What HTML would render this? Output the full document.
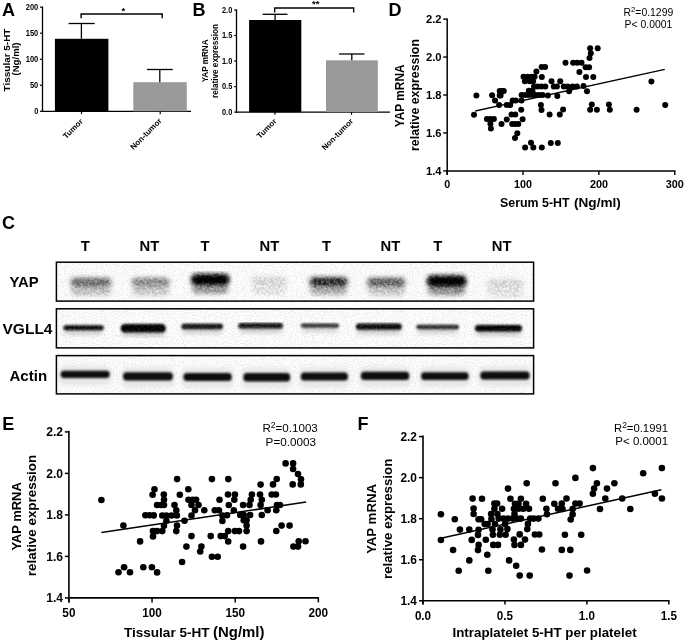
<!DOCTYPE html><html><head><meta charset="utf-8"><style>
html,body{margin:0;padding:0;background:#fff;width:685px;height:642px;overflow:hidden}
svg{display:block;font-family:"Liberation Sans", sans-serif;opacity:0.999}
</style></head><body>
<svg width="685" height="642" viewBox="0 0 685 642">
<defs>
<filter id="b1" x="-30%" y="-100%" width="160%" height="300%"><feGaussianBlur stdDeviation="2.4 2.2"/></filter>
<filter id="b2" x="-30%" y="-100%" width="160%" height="300%"><feGaussianBlur stdDeviation="2.2 2.2"/></filter>
<filter id="b3" x="-30%" y="-100%" width="160%" height="300%"><feGaussianBlur stdDeviation="1.2 0.9"/></filter>
<filter id="noise" x="0" y="0" width="100%" height="100%">
 <feTurbulence type="fractalNoise" baseFrequency="0.9" numOctaves="2" seed="3" result="t"/>
 <feColorMatrix in="t" type="matrix" values="0 0 0 0 0  0 0 0 0 0  0 0 0 0 0  0 0 0 -2.2 1.25" result="m"/>
 <feComposite in="m" in2="SourceGraphic" operator="in"/>
</filter>
<filter id="grain" x="-5%" y="-5%" width="110%" height="110%">
 <feTurbulence type="fractalNoise" baseFrequency="0.42" numOctaves="2" seed="7" result="n"/>
 <feColorMatrix in="n" type="matrix" values="0 0 0 0 0  0 0 0 0 0  0 0 0 0 0  2.2 0 0 0 -0.55" result="na"/>
 <feComposite in="SourceGraphic" in2="na" operator="arithmetic" k1="0.4" k2="0.72" k3="0" k4="0"/>
</filter>
<filter id="grain2" x="-5%" y="-5%" width="110%" height="110%">
 <feTurbulence type="fractalNoise" baseFrequency="0.5" numOctaves="2" seed="11" result="n"/>
 <feColorMatrix in="n" type="matrix" values="0 0 0 0 0  0 0 0 0 0  0 0 0 0 0  2.2 0 0 0 -0.55" result="na"/>
 <feComposite in="SourceGraphic" in2="na" operator="arithmetic" k1="0.15" k2="0.9" k3="0" k4="0"/>
</filter>
</defs>
<rect width="685" height="642" fill="#fff"/>
<text x="1.9" y="15.9" font-size="18" font-weight="bold" text-anchor="start" fill="#000" >A</text>
<line x1="42.5" y1="6.6" x2="42.5" y2="111.95" stroke="#000" stroke-width="1.3"/>
<line x1="40.0" y1="111.3" x2="42.5" y2="111.3" stroke="#000" stroke-width="1.2"/>
<text x="38.3" y="114.05" font-size="8.5" font-weight="bold" text-anchor="end" fill="#000" textLength="4.17" lengthAdjust="spacingAndGlyphs" >0</text>
<line x1="40.0" y1="85.27" x2="42.5" y2="85.27" stroke="#000" stroke-width="1.2"/>
<text x="38.3" y="88.02" font-size="8.5" font-weight="bold" text-anchor="end" fill="#000" textLength="8.34" lengthAdjust="spacingAndGlyphs" >50</text>
<line x1="40.0" y1="59.239999999999995" x2="42.5" y2="59.239999999999995" stroke="#000" stroke-width="1.2"/>
<text x="38.3" y="61.989999999999995" font-size="8.5" font-weight="bold" text-anchor="end" fill="#000" textLength="12.51" lengthAdjust="spacingAndGlyphs" >100</text>
<line x1="40.0" y1="33.209999999999994" x2="42.5" y2="33.209999999999994" stroke="#000" stroke-width="1.2"/>
<text x="38.3" y="35.959999999999994" font-size="8.5" font-weight="bold" text-anchor="end" fill="#000" textLength="12.51" lengthAdjust="spacingAndGlyphs" >150</text>
<line x1="40.0" y1="7.179999999999993" x2="42.5" y2="7.179999999999993" stroke="#000" stroke-width="1.2"/>
<text x="38.3" y="9.929999999999993" font-size="8.5" font-weight="bold" text-anchor="end" fill="#000" textLength="12.51" lengthAdjust="spacingAndGlyphs" >200</text>
<line x1="41.85" y1="111.3" x2="191" y2="111.3" stroke="#000" stroke-width="1.3"/>
<rect x="54.9" y="38.8" width="53.5" height="72.5" fill="#000"/>
<rect x="133.3" y="82.2" width="53.5" height="29.099999999999994" fill="#999"/>
<line x1="81.4" y1="23.5" x2="81.4" y2="38.8" stroke="#000" stroke-width="1.3"/>
<line x1="68.6" y1="23.5" x2="94.7" y2="23.5" stroke="#000" stroke-width="1.3"/>
<line x1="159.8" y1="69.5" x2="159.8" y2="82.2" stroke="#000" stroke-width="1.3"/>
<line x1="146.9" y1="69.5" x2="172.8" y2="69.5" stroke="#000" stroke-width="1.3"/>
<line x1="81.5" y1="111.3" x2="81.5" y2="114.2" stroke="#000" stroke-width="1.2"/>
<line x1="160.2" y1="111.3" x2="160.2" y2="114.2" stroke="#000" stroke-width="1.2"/>
<path d="M81.1 18.2V14.0H162.2V18.2" fill="none" stroke="#000" stroke-width="1.4"/>
<text x="123.4" y="14.0" font-size="9.5" font-weight="bold" text-anchor="middle" fill="#000" >*</text>
<text transform="translate(83.5,122.0) rotate(-45)" font-size="8.0" font-weight="bold" text-anchor="end">Tumor</text>
<text transform="translate(162.3,121.3) rotate(-45)" font-size="8.0" font-weight="bold" text-anchor="end">Non-tumor</text>
<text transform="translate(9.9,60.0) rotate(-90)" font-size="9.9" font-weight="bold" text-anchor="middle" textLength="62.8" lengthAdjust="spacingAndGlyphs">Tissular 5-HT</text>
<text transform="translate(19.3,59.0) rotate(-90)" font-size="9.6" font-weight="bold" text-anchor="middle">(Ng/ml)</text>
<text x="192.5" y="15.9" font-size="18" font-weight="bold" text-anchor="start" fill="#000" >B</text>
<line x1="236.5" y1="9.4" x2="236.5" y2="112.75" stroke="#000" stroke-width="1.3"/>
<line x1="234.2" y1="112.1" x2="236.5" y2="112.1" stroke="#000" stroke-width="1.2"/>
<text x="232.3" y="114.85" font-size="8.3" font-weight="bold" text-anchor="end" fill="#000" textLength="10.29" lengthAdjust="spacingAndGlyphs" >0.0</text>
<line x1="234.2" y1="86.57" x2="236.5" y2="86.57" stroke="#000" stroke-width="1.2"/>
<text x="232.3" y="89.32" font-size="8.3" font-weight="bold" text-anchor="end" fill="#000" textLength="10.29" lengthAdjust="spacingAndGlyphs" >0.5</text>
<line x1="234.2" y1="61.03999999999999" x2="236.5" y2="61.03999999999999" stroke="#000" stroke-width="1.2"/>
<text x="232.3" y="63.78999999999999" font-size="8.3" font-weight="bold" text-anchor="end" fill="#000" textLength="10.29" lengthAdjust="spacingAndGlyphs" >1.0</text>
<line x1="234.2" y1="35.50999999999999" x2="236.5" y2="35.50999999999999" stroke="#000" stroke-width="1.2"/>
<text x="232.3" y="38.25999999999999" font-size="8.3" font-weight="bold" text-anchor="end" fill="#000" textLength="10.29" lengthAdjust="spacingAndGlyphs" >1.5</text>
<line x1="234.2" y1="9.97999999999999" x2="236.5" y2="9.97999999999999" stroke="#000" stroke-width="1.2"/>
<text x="232.3" y="12.72999999999999" font-size="8.3" font-weight="bold" text-anchor="end" fill="#000" textLength="10.29" lengthAdjust="spacingAndGlyphs" >2.0</text>
<line x1="235.85" y1="112.1" x2="390" y2="112.1" stroke="#000" stroke-width="1.3"/>
<rect x="249.1" y="20.0" width="52.2" height="92.1" fill="#000"/>
<rect x="326.0" y="60.3" width="51.8" height="51.8" fill="#999"/>
<line x1="275.1" y1="14.3" x2="275.1" y2="20" stroke="#000" stroke-width="1.3"/>
<line x1="262.6" y1="14.3" x2="287.5" y2="14.3" stroke="#000" stroke-width="1.3"/>
<line x1="351.8" y1="54.0" x2="351.8" y2="60.3" stroke="#000" stroke-width="1.3"/>
<line x1="339.1" y1="54.0" x2="364.4" y2="54.0" stroke="#000" stroke-width="1.3"/>
<line x1="275.0" y1="112.1" x2="275.0" y2="114.8" stroke="#000" stroke-width="1.2"/>
<line x1="351.5" y1="112.1" x2="351.5" y2="114.8" stroke="#000" stroke-width="1.2"/>
<path d="M274.7 12.4V8.0H353.7V12.4" fill="none" stroke="#000" stroke-width="1.3"/>
<text x="315.8" y="7.4" font-size="9.5" font-weight="bold" text-anchor="middle" fill="#000" >**</text>
<text transform="translate(277.2,121.8) rotate(-45)" font-size="8.0" font-weight="bold" text-anchor="end">Tumor</text>
<text transform="translate(353.8,121.8) rotate(-45)" font-size="8.0" font-weight="bold" text-anchor="end">Non-tumor</text>
<text transform="translate(207.6,60.9) rotate(-90)" font-size="8.9" font-weight="bold" text-anchor="middle" textLength="42.9" lengthAdjust="spacingAndGlyphs">YAP mRNA</text>
<text transform="translate(217.6,61.0) rotate(-90)" font-size="8.5" font-weight="bold" text-anchor="middle" textLength="74.0" lengthAdjust="spacingAndGlyphs">relative expression</text>
<text x="388.5" y="15.8" font-size="18" font-weight="bold" text-anchor="start" fill="#000" >D</text>
<line x1="447.2" y1="18.5" x2="447.2" y2="174.8" stroke="#000" stroke-width="1.5"/>
<line x1="443.2" y1="170.9" x2="447.2" y2="170.9" stroke="#000" stroke-width="1.4"/>
<text x="441.6" y="174.9" font-size="11.2" font-weight="bold" text-anchor="end" fill="#000" >1.4</text>
<line x1="443.2" y1="132.95" x2="447.2" y2="132.95" stroke="#000" stroke-width="1.4"/>
<text x="441.6" y="136.95" font-size="11.2" font-weight="bold" text-anchor="end" fill="#000" >1.6</text>
<line x1="443.2" y1="95.0" x2="447.2" y2="95.0" stroke="#000" stroke-width="1.4"/>
<text x="441.6" y="99.0" font-size="11.2" font-weight="bold" text-anchor="end" fill="#000" >1.8</text>
<line x1="443.2" y1="57.05" x2="447.2" y2="57.05" stroke="#000" stroke-width="1.4"/>
<text x="441.6" y="61.05" font-size="11.2" font-weight="bold" text-anchor="end" fill="#000" >2.0</text>
<line x1="443.2" y1="19.099999999999994" x2="447.2" y2="19.099999999999994" stroke="#000" stroke-width="1.4"/>
<text x="441.6" y="23.099999999999994" font-size="11.2" font-weight="bold" text-anchor="end" fill="#000" >2.2</text>
<line x1="447.2" y1="170.9" x2="675.5" y2="170.9" stroke="#000" stroke-width="1.5"/>
<line x1="447.2" y1="170.9" x2="447.2" y2="174.9" stroke="#000" stroke-width="1.4"/>
<text x="447.2" y="188.1" font-size="10.8" font-weight="bold" text-anchor="middle" fill="#000" >0</text>
<line x1="523.05" y1="170.9" x2="523.05" y2="174.9" stroke="#000" stroke-width="1.4"/>
<text x="523.05" y="188.1" font-size="10.8" font-weight="bold" text-anchor="middle" fill="#000" >100</text>
<line x1="598.9" y1="170.9" x2="598.9" y2="174.9" stroke="#000" stroke-width="1.4"/>
<text x="598.9" y="188.1" font-size="10.8" font-weight="bold" text-anchor="middle" fill="#000" >200</text>
<line x1="674.75" y1="170.9" x2="674.75" y2="174.9" stroke="#000" stroke-width="1.4"/>
<text x="674.75" y="188.1" font-size="10.8" font-weight="bold" text-anchor="middle" fill="#000" >300</text>
<text x="500.0" y="206.5" font-size="12.4" font-weight="bold" text-anchor="start" fill="#000" >Serum 5-HT</text>
<text x="574.0" y="206.5" font-size="13.6" font-weight="bold" text-anchor="start" fill="#000" >(Ng/ml)</text>
<text transform="translate(404.3,95.8) rotate(-90)" font-size="12.4" font-weight="bold" text-anchor="middle" textLength="62.7" lengthAdjust="spacingAndGlyphs">YAP mRNA</text>
<text transform="translate(418.6,95.0) rotate(-90)" font-size="12.2" font-weight="bold" text-anchor="middle" textLength="111.9" lengthAdjust="spacingAndGlyphs">relative expression</text>
<text x="623.5" y="15.7" font-size="10.4" font-weight="normal">R<tspan font-size="7.8" dy="-4.1">2</tspan><tspan dy="4.1">=0.1299</tspan></text>
<text x="624.6" y="27.6" font-size="10.4" font-weight="normal" text-anchor="start" fill="#000" >P&lt; 0.0001</text>
<line x1="475.2" y1="111.0" x2="664.8" y2="69.4" stroke="#000" stroke-width="1.4"/>
<circle cx="476.4" cy="95.5" r="3.0"/>
<circle cx="474.0" cy="114.7" r="3.0"/>
<circle cx="492.1" cy="95.2" r="3.0"/>
<circle cx="495.0" cy="100.4" r="3.0"/>
<circle cx="499.7" cy="91.1" r="3.0"/>
<circle cx="503.8" cy="91.1" r="3.0"/>
<circle cx="499.7" cy="95.5" r="3.0"/>
<circle cx="499.1" cy="105.1" r="3.0"/>
<circle cx="506.7" cy="105.1" r="3.0"/>
<circle cx="510.2" cy="105.1" r="3.0"/>
<circle cx="512.6" cy="100.4" r="3.0"/>
<circle cx="515.8" cy="100.4" r="3.0"/>
<circle cx="521.5" cy="100.4" r="3.0"/>
<circle cx="521.2" cy="109.8" r="3.0"/>
<circle cx="511.5" cy="114.5" r="3.0"/>
<circle cx="515.3" cy="114.5" r="3.0"/>
<circle cx="506.8" cy="119.6" r="3.0"/>
<circle cx="522.6" cy="119.3" r="3.0"/>
<circle cx="486.9" cy="119.1" r="3.0"/>
<circle cx="490.4" cy="119.1" r="3.0"/>
<circle cx="493.9" cy="119.1" r="3.0"/>
<circle cx="490.4" cy="123.8" r="3.0"/>
<circle cx="490.9" cy="128.5" r="3.0"/>
<circle cx="501.5" cy="124.0" r="3.0"/>
<circle cx="512.2" cy="124.1" r="3.0"/>
<circle cx="515.3" cy="124.1" r="3.0"/>
<circle cx="518.3" cy="124.1" r="3.0"/>
<circle cx="517.3" cy="133.2" r="3.0"/>
<circle cx="515.0" cy="138.0" r="3.0"/>
<circle cx="525.1" cy="147.6" r="3.0"/>
<circle cx="531.0" cy="142.7" r="3.0"/>
<circle cx="533.3" cy="147.6" r="3.0"/>
<circle cx="541.8" cy="147.6" r="3.0"/>
<circle cx="550.8" cy="142.9" r="3.0"/>
<circle cx="557.8" cy="142.9" r="3.0"/>
<circle cx="540.9" cy="104.9" r="3.0"/>
<circle cx="541.5" cy="110.0" r="3.0"/>
<circle cx="549.6" cy="114.6" r="3.0"/>
<circle cx="563.1" cy="109.6" r="3.0"/>
<circle cx="559.8" cy="114.6" r="3.0"/>
<circle cx="557.3" cy="96.0" r="3.0"/>
<circle cx="541.6" cy="67.1" r="3.0"/>
<circle cx="545.1" cy="67.1" r="3.0"/>
<circle cx="536.4" cy="71.5" r="3.0"/>
<circle cx="523.5" cy="76.8" r="3.0"/>
<circle cx="527.6" cy="76.8" r="3.0"/>
<circle cx="531.7" cy="76.8" r="3.0"/>
<circle cx="534.6" cy="76.8" r="3.0"/>
<circle cx="541.8" cy="76.9" r="3.0"/>
<circle cx="524.9" cy="81.3" r="3.0"/>
<circle cx="529.7" cy="81.3" r="3.0"/>
<circle cx="533.1" cy="81.3" r="3.0"/>
<circle cx="551.5" cy="81.3" r="3.0"/>
<circle cx="560.2" cy="81.2" r="3.0"/>
<circle cx="534.0" cy="86.5" r="3.0"/>
<circle cx="537.5" cy="86.4" r="3.0"/>
<circle cx="541.3" cy="86.5" r="3.0"/>
<circle cx="545.3" cy="86.5" r="3.0"/>
<circle cx="553.8" cy="86.5" r="3.0"/>
<circle cx="556.9" cy="86.5" r="3.0"/>
<circle cx="563.8" cy="86.6" r="3.0"/>
<circle cx="567.6" cy="86.6" r="3.0"/>
<circle cx="572.5" cy="86.6" r="3.0"/>
<circle cx="576.9" cy="86.6" r="3.0"/>
<circle cx="583.5" cy="86.1" r="3.0"/>
<circle cx="569.1" cy="91.3" r="3.0"/>
<circle cx="587.0" cy="91.2" r="3.0"/>
<circle cx="528.8" cy="90.8" r="3.0"/>
<circle cx="532.5" cy="90.8" r="3.0"/>
<circle cx="521.6" cy="95.0" r="3.0"/>
<circle cx="525.1" cy="95.0" r="3.0"/>
<circle cx="528.6" cy="95.0" r="3.0"/>
<circle cx="532.7" cy="95.0" r="3.0"/>
<circle cx="535.6" cy="95.0" r="3.0"/>
<circle cx="539.1" cy="95.0" r="3.0"/>
<circle cx="542.6" cy="95.1" r="3.0"/>
<circle cx="547.9" cy="95.6" r="3.0"/>
<circle cx="502.3" cy="91.0" r="3.0"/>
<circle cx="500.6" cy="95.6" r="3.0"/>
<circle cx="565.5" cy="62.8" r="3.0"/>
<circle cx="573.1" cy="62.8" r="3.0"/>
<circle cx="577.2" cy="62.8" r="3.0"/>
<circle cx="581.5" cy="62.8" r="3.0"/>
<circle cx="585.6" cy="67.3" r="3.0"/>
<circle cx="589.1" cy="67.3" r="3.0"/>
<circle cx="579.4" cy="72.0" r="3.0"/>
<circle cx="586.0" cy="77.0" r="3.0"/>
<circle cx="593.3" cy="77.0" r="3.0"/>
<circle cx="590.1" cy="48.2" r="3.0"/>
<circle cx="597.7" cy="48.2" r="3.0"/>
<circle cx="590.8" cy="53.3" r="3.0"/>
<circle cx="589.5" cy="58.0" r="3.0"/>
<circle cx="651.4" cy="81.5" r="3.0"/>
<circle cx="591.8" cy="104.6" r="3.0"/>
<circle cx="590.1" cy="109.7" r="3.0"/>
<circle cx="596.9" cy="109.7" r="3.0"/>
<circle cx="608.9" cy="104.6" r="3.0"/>
<circle cx="609.8" cy="109.7" r="3.0"/>
<circle cx="636.6" cy="109.7" r="3.0"/>
<circle cx="665.2" cy="105.0" r="3.0"/>
<text x="2.1" y="229.0" font-size="18" font-weight="bold" text-anchor="start" fill="#000" >C</text>
<text x="85.3" y="251.0" font-size="14.8" font-weight="bold" text-anchor="middle" fill="#000" >T</text>
<text x="149.4" y="251.0" font-size="14.8" font-weight="bold" text-anchor="middle" fill="#000" >NT</text>
<text x="205.0" y="251.0" font-size="14.8" font-weight="bold" text-anchor="middle" fill="#000" >T</text>
<text x="269.4" y="251.0" font-size="14.8" font-weight="bold" text-anchor="middle" fill="#000" >NT</text>
<text x="326.5" y="251.0" font-size="14.8" font-weight="bold" text-anchor="middle" fill="#000" >T</text>
<text x="390.4" y="251.0" font-size="14.8" font-weight="bold" text-anchor="middle" fill="#000" >NT</text>
<text x="437.8" y="251.0" font-size="14.8" font-weight="bold" text-anchor="middle" fill="#000" >T</text>
<text x="501.7" y="251.0" font-size="14.8" font-weight="bold" text-anchor="middle" fill="#000" >NT</text>
<text x="9.5" y="287.3" font-size="14.8" font-weight="bold" text-anchor="start" fill="#000" textLength="29.2" lengthAdjust="spacingAndGlyphs" >YAP</text>
<text x="2.5" y="333.9" font-size="15.4" font-weight="bold" text-anchor="start" fill="#000" textLength="50.0" lengthAdjust="spacingAndGlyphs" >VGLL4</text>
<text x="9.5" y="380.8" font-size="15.1" font-weight="bold" text-anchor="start" fill="#000" textLength="37.6" lengthAdjust="spacingAndGlyphs" >Actin</text>
<rect x="56.4" y="262.2" width="477.20000000000005" height="38.900000000000034" fill="#fff"/>
<rect x="56.4" y="262.2" width="477.20000000000005" height="38.900000000000034" fill="#000" filter="url(#noise)" opacity="0.13"/>
<rect x="56.4" y="308.8" width="477.20000000000005" height="39.099999999999966" fill="#fff"/>
<rect x="56.4" y="308.8" width="477.20000000000005" height="39.099999999999966" fill="#000" filter="url(#noise)" opacity="0.13"/>
<rect x="56.4" y="355.6" width="477.20000000000005" height="38.299999999999955" fill="#fff"/>
<rect x="56.4" y="355.6" width="477.20000000000005" height="38.299999999999955" fill="#000" filter="url(#noise)" opacity="0.13"/>
<g filter="url(#grain)">
<rect x="71.0" y="285.5" width="40.0" height="10.0" rx="5.0" fill="rgb(214,214,214)" filter="url(#b2)"/>
<rect x="71.0" y="277.8" width="40.0" height="9.0" rx="4.0" fill="rgb(115,115,115)" filter="url(#b1)"/>
<rect x="132.0" y="285.5" width="37.5" height="10.0" rx="5.0" fill="rgb(224,224,224)" filter="url(#b2)"/>
<rect x="132.0" y="277.8" width="37.5" height="9.0" rx="4.0" fill="rgb(148,148,148)" filter="url(#b1)"/>
<rect x="192.0" y="283.8" width="36.5" height="10.0" rx="5.0" fill="rgb(163,163,163)" filter="url(#b2)"/>
<rect x="192.5" y="272.3" width="35.5" height="5.0" rx="2.5" fill="rgb(218,218,218)" filter="url(#b2)"/>
<rect x="192.0" y="274.6" width="36.5" height="10.5" rx="4.0" fill="rgb(0,0,0)" filter="url(#b1)"/>
<rect x="252.0" y="284.5" width="34.5" height="10.0" rx="5.0" fill="rgb(252,252,252)" filter="url(#b2)"/>
<rect x="252.0" y="276.8" width="34.5" height="9.0" rx="4.0" fill="rgb(238,238,238)" filter="url(#b1)"/>
<rect x="310.0" y="285.0" width="37.3" height="10.0" rx="5.0" fill="rgb(189,189,189)" filter="url(#b2)"/>
<rect x="310.0" y="277.3" width="37.3" height="9.0" rx="4.0" fill="rgb(36,36,36)" filter="url(#b1)"/>
<rect x="367.5" y="285.4" width="37.5" height="10.0" rx="5.0" fill="rgb(222,222,222)" filter="url(#b2)"/>
<rect x="367.5" y="277.7" width="37.5" height="9.0" rx="4.0" fill="rgb(102,102,102)" filter="url(#b1)"/>
<rect x="427.8" y="285.3" width="37.7" height="10.0" rx="5.0" fill="rgb(158,158,158)" filter="url(#b2)"/>
<rect x="428.3" y="273.8" width="36.7" height="5.0" rx="2.5" fill="rgb(216,216,216)" filter="url(#b2)"/>
<rect x="427.8" y="276.1" width="37.7" height="10.5" rx="4.0" fill="rgb(0,0,0)" filter="url(#b1)"/>
<rect x="487.5" y="287.0" width="35.5" height="10.0" rx="5.0" fill="rgb(252,252,252)" filter="url(#b2)"/>
<rect x="487.5" y="279.3" width="35.5" height="9.0" rx="4.0" fill="rgb(241,241,241)" filter="url(#b1)"/>
</g>
<rect x="192.5" y="276.6" width="35.5" height="6.5" rx="3.0" fill="rgb(0,0,0)" filter="url(#b1)"/>
<rect x="428.3" y="278.1" width="36.7" height="6.5" rx="3.0" fill="rgb(0,0,0)" filter="url(#b1)"/>
<g filter="url(#grain2)">
<rect x="64.4" y="325.8" width="38.2" height="9.0" rx="3.0" fill="rgb(211,211,211)" filter="url(#b2)"/>
<rect x="63.3" y="325.3" width="40.4" height="5.0" rx="2.5" fill="rgb(13,13,13)" filter="url(#b3)"/>
<rect x="121.8" y="324.4" width="42.9" height="12.6" rx="3.0" fill="rgb(209,209,209)" filter="url(#b2)"/>
<rect x="120.7" y="323.9" width="45.1" height="8.6" rx="4.3" fill="rgb(0,0,0)" filter="url(#b3)"/>
<rect x="182.5" y="324.2" width="39.4" height="9.6" rx="3.0" fill="rgb(213,213,213)" filter="url(#b2)"/>
<rect x="181.4" y="323.7" width="41.6" height="5.6" rx="2.8" fill="rgb(20,20,20)" filter="url(#b3)"/>
<rect x="239.4" y="323.4" width="42.5" height="9.6" rx="3.0" fill="rgb(214,214,214)" filter="url(#b2)"/>
<rect x="238.3" y="322.9" width="44.7" height="5.6" rx="2.8" fill="rgb(25,25,25)" filter="url(#b3)"/>
<rect x="301.9" y="324.0" width="36.1" height="8.2" rx="3.0" fill="rgb(219,219,219)" filter="url(#b2)"/>
<rect x="300.8" y="323.5" width="38.3" height="4.2" rx="2.1" fill="rgb(56,56,56)" filter="url(#b3)"/>
<rect x="357.1" y="324.1" width="43.6" height="10.2" rx="3.0" fill="rgb(211,211,211)" filter="url(#b2)"/>
<rect x="356.0" y="323.6" width="45.8" height="6.2" rx="3.1" fill="rgb(13,13,13)" filter="url(#b3)"/>
<rect x="417.4" y="325.3" width="40.5" height="8.4" rx="3.0" fill="rgb(217,217,217)" filter="url(#b2)"/>
<rect x="416.3" y="324.8" width="42.7" height="4.4" rx="2.2" fill="rgb(46,46,46)" filter="url(#b3)"/>
<rect x="476.1" y="325.4" width="44.8" height="10.6" rx="3.0" fill="rgb(209,209,209)" filter="url(#b2)"/>
<rect x="475.0" y="324.9" width="47.0" height="6.6" rx="3.3" fill="rgb(0,0,0)" filter="url(#b3)"/>
</g>
<rect x="58.9" y="365.7" width="52.5" height="19.2" rx="6.0" fill="rgb(230,230,230)" filter="url(#b2)"/>
<rect x="60.6" y="370.7" width="49.1" height="7.2" rx="3.5" fill="rgb(13,13,13)" filter="url(#b3)"/>
<rect x="121.4" y="367.3" width="53.1" height="20.2" rx="6.0" fill="rgb(230,230,230)" filter="url(#b2)"/>
<rect x="123.1" y="372.3" width="49.7" height="8.2" rx="3.5" fill="rgb(13,13,13)" filter="url(#b3)"/>
<rect x="181.8" y="368.1" width="51.6" height="20.0" rx="6.0" fill="rgb(230,230,230)" filter="url(#b2)"/>
<rect x="183.5" y="373.1" width="48.2" height="8.0" rx="3.5" fill="rgb(13,13,13)" filter="url(#b3)"/>
<rect x="241.7" y="368.0" width="50.1" height="20.4" rx="6.0" fill="rgb(230,230,230)" filter="url(#b2)"/>
<rect x="243.4" y="373.0" width="46.7" height="8.4" rx="3.5" fill="rgb(13,13,13)" filter="url(#b3)"/>
<rect x="299.1" y="367.4" width="50.5" height="20.2" rx="6.0" fill="rgb(230,230,230)" filter="url(#b2)"/>
<rect x="300.8" y="372.4" width="47.1" height="8.2" rx="3.5" fill="rgb(13,13,13)" filter="url(#b3)"/>
<rect x="359.2" y="366.7" width="51.7" height="20.2" rx="6.0" fill="rgb(230,230,230)" filter="url(#b2)"/>
<rect x="360.9" y="371.7" width="48.3" height="8.2" rx="3.5" fill="rgb(13,13,13)" filter="url(#b3)"/>
<rect x="419.4" y="367.3" width="50.9" height="19.8" rx="6.0" fill="rgb(230,230,230)" filter="url(#b2)"/>
<rect x="421.1" y="372.3" width="47.5" height="7.8" rx="3.5" fill="rgb(13,13,13)" filter="url(#b3)"/>
<rect x="478.6" y="366.6" width="52.7" height="19.8" rx="6.0" fill="rgb(230,230,230)" filter="url(#b2)"/>
<rect x="480.3" y="371.6" width="49.3" height="7.8" rx="3.5" fill="rgb(13,13,13)" filter="url(#b3)"/>
<rect x="56.4" y="262.2" width="477.20000000000005" height="38.900000000000034" fill="none" stroke="#000" stroke-width="1.5"/>
<rect x="56.4" y="308.8" width="477.20000000000005" height="39.099999999999966" fill="none" stroke="#000" stroke-width="1.5"/>
<rect x="56.4" y="355.6" width="477.20000000000005" height="38.299999999999955" fill="none" stroke="#000" stroke-width="1.5"/>
<text x="2.2" y="429.6" font-size="18" font-weight="bold" text-anchor="start" fill="#000" >E</text>
<line x1="68.9" y1="430.8" x2="68.9" y2="602.4" stroke="#000" stroke-width="1.6"/>
<line x1="64.9" y1="597.9" x2="68.9" y2="597.9" stroke="#000" stroke-width="1.5"/>
<text x="63.0" y="602.25" font-size="12.1" font-weight="bold" text-anchor="end" fill="#000" >1.4</text>
<line x1="64.9" y1="556.4" x2="68.9" y2="556.4" stroke="#000" stroke-width="1.5"/>
<text x="63.0" y="560.75" font-size="12.1" font-weight="bold" text-anchor="end" fill="#000" >1.6</text>
<line x1="64.9" y1="514.9" x2="68.9" y2="514.9" stroke="#000" stroke-width="1.5"/>
<text x="63.0" y="519.25" font-size="12.1" font-weight="bold" text-anchor="end" fill="#000" >1.8</text>
<line x1="64.9" y1="473.4" x2="68.9" y2="473.4" stroke="#000" stroke-width="1.5"/>
<text x="63.0" y="477.75" font-size="12.1" font-weight="bold" text-anchor="end" fill="#000" >2.0</text>
<line x1="64.9" y1="431.9" x2="68.9" y2="431.9" stroke="#000" stroke-width="1.5"/>
<text x="63.0" y="436.25" font-size="12.1" font-weight="bold" text-anchor="end" fill="#000" >2.2</text>
<line x1="68.9" y1="597.9" x2="318.8" y2="597.9" stroke="#000" stroke-width="1.6"/>
<line x1="68.9" y1="597.9" x2="68.9" y2="602.4" stroke="#000" stroke-width="1.5"/>
<text x="68.9" y="616.9" font-size="13.0" font-weight="bold" text-anchor="middle" fill="#000" textLength="13.07" lengthAdjust="spacingAndGlyphs" >50</text>
<line x1="152.05" y1="597.9" x2="152.05" y2="602.4" stroke="#000" stroke-width="1.5"/>
<text x="152.05" y="616.9" font-size="13.0" font-weight="bold" text-anchor="middle" fill="#000" textLength="19.6" lengthAdjust="spacingAndGlyphs" >100</text>
<line x1="235.20000000000002" y1="597.9" x2="235.20000000000002" y2="602.4" stroke="#000" stroke-width="1.5"/>
<text x="235.20000000000002" y="616.9" font-size="13.0" font-weight="bold" text-anchor="middle" fill="#000" textLength="19.6" lengthAdjust="spacingAndGlyphs" >150</text>
<line x1="318.35" y1="597.9" x2="318.35" y2="602.4" stroke="#000" stroke-width="1.5"/>
<text x="318.35" y="616.9" font-size="13.0" font-weight="bold" text-anchor="middle" fill="#000" textLength="19.6" lengthAdjust="spacingAndGlyphs" >200</text>
<text x="123.9" y="637.4" font-size="13.5" font-weight="bold" text-anchor="start" fill="#000" textLength="85.7" lengthAdjust="spacingAndGlyphs" >Tissular 5-HT</text>
<text x="213.1" y="637.4" font-size="15.0" font-weight="bold" text-anchor="start" fill="#000" textLength="51.4" lengthAdjust="spacingAndGlyphs" >(Ng/ml)</text>
<text transform="translate(21.2,516.4) rotate(-90)" font-size="13.4" font-weight="bold" text-anchor="middle" textLength="68.4" lengthAdjust="spacingAndGlyphs">YAP mRNA</text>
<text transform="translate(35.6,515.5) rotate(-90)" font-size="13.3" font-weight="bold" text-anchor="middle" textLength="121.3" lengthAdjust="spacingAndGlyphs">relative expression</text>
<text x="262.4" y="432.3" font-size="11.6" font-weight="normal">R<tspan font-size="8.6" dy="-4.5">2</tspan><tspan dy="4.5">=0.1003</tspan></text>
<text x="265.6" y="445.6" font-size="11.7" font-weight="normal" text-anchor="start" fill="#000" >P=0.0003</text>
<line x1="101.4" y1="532.6" x2="306.2" y2="502.1" stroke="#000" stroke-width="1.5"/>
<circle cx="101.4" cy="500.0" r="3.3"/>
<circle cx="154.5" cy="489.3" r="3.3"/>
<circle cx="152.6" cy="494.7" r="3.3"/>
<circle cx="157.1" cy="505.0" r="3.3"/>
<circle cx="145.4" cy="515.3" r="3.3"/>
<circle cx="149.5" cy="515.3" r="3.3"/>
<circle cx="153.7" cy="515.4" r="3.3"/>
<circle cx="123.4" cy="525.5" r="3.3"/>
<circle cx="153.0" cy="531.1" r="3.3"/>
<circle cx="157.1" cy="531.1" r="3.3"/>
<circle cx="153.0" cy="536.4" r="3.3"/>
<circle cx="140.1" cy="541.4" r="3.3"/>
<circle cx="124.1" cy="567.3" r="3.3"/>
<circle cx="118.5" cy="572.3" r="3.3"/>
<circle cx="130.0" cy="572.3" r="3.3"/>
<circle cx="143.3" cy="567.3" r="3.3"/>
<circle cx="151.9" cy="567.3" r="3.3"/>
<circle cx="157.1" cy="572.4" r="3.3"/>
<circle cx="177.1" cy="479.1" r="3.3"/>
<circle cx="211.9" cy="479.1" r="3.3"/>
<circle cx="228.3" cy="479.1" r="3.3"/>
<circle cx="163.8" cy="494.5" r="3.3"/>
<circle cx="179.8" cy="494.8" r="3.3"/>
<circle cx="188.3" cy="489.3" r="3.3"/>
<circle cx="164.0" cy="499.8" r="3.3"/>
<circle cx="188.5" cy="499.8" r="3.3"/>
<circle cx="192.6" cy="499.8" r="3.3"/>
<circle cx="196.1" cy="499.8" r="3.3"/>
<circle cx="219.5" cy="499.8" r="3.3"/>
<circle cx="228.0" cy="494.5" r="3.3"/>
<circle cx="161.1" cy="505.0" r="3.3"/>
<circle cx="164.0" cy="505.0" r="3.3"/>
<circle cx="174.5" cy="505.0" r="3.3"/>
<circle cx="191.5" cy="505.0" r="3.3"/>
<circle cx="198.5" cy="505.0" r="3.3"/>
<circle cx="228.8" cy="505.0" r="3.3"/>
<circle cx="176.3" cy="510.3" r="3.3"/>
<circle cx="195.0" cy="510.3" r="3.3"/>
<circle cx="204.3" cy="510.3" r="3.3"/>
<circle cx="214.8" cy="510.3" r="3.3"/>
<circle cx="218.9" cy="510.3" r="3.3"/>
<circle cx="162.3" cy="515.5" r="3.3"/>
<circle cx="166.4" cy="515.5" r="3.3"/>
<circle cx="171.6" cy="515.5" r="3.3"/>
<circle cx="176.9" cy="515.5" r="3.3"/>
<circle cx="191.5" cy="515.5" r="3.3"/>
<circle cx="222.4" cy="515.5" r="3.3"/>
<circle cx="227.0" cy="515.3" r="3.3"/>
<circle cx="166.4" cy="520.8" r="3.3"/>
<circle cx="184.5" cy="520.8" r="3.3"/>
<circle cx="222.4" cy="520.9" r="3.3"/>
<circle cx="164.0" cy="525.7" r="3.3"/>
<circle cx="177.0" cy="525.6" r="3.3"/>
<circle cx="162.3" cy="531.1" r="3.3"/>
<circle cx="176.3" cy="531.1" r="3.3"/>
<circle cx="191.5" cy="536.1" r="3.3"/>
<circle cx="210.7" cy="536.1" r="3.3"/>
<circle cx="220.7" cy="536.1" r="3.3"/>
<circle cx="224.7" cy="536.1" r="3.3"/>
<circle cx="228.2" cy="531.1" r="3.3"/>
<circle cx="228.2" cy="541.5" r="3.3"/>
<circle cx="186.4" cy="546.6" r="3.3"/>
<circle cx="201.4" cy="546.6" r="3.3"/>
<circle cx="200.2" cy="551.5" r="3.3"/>
<circle cx="211.9" cy="556.8" r="3.3"/>
<circle cx="217.7" cy="556.8" r="3.3"/>
<circle cx="182.1" cy="562.0" r="3.3"/>
<circle cx="285.6" cy="463.4" r="3.3"/>
<circle cx="293.1" cy="463.4" r="3.3"/>
<circle cx="293.1" cy="469.0" r="3.3"/>
<circle cx="298.0" cy="474.0" r="3.3"/>
<circle cx="301.0" cy="479.3" r="3.3"/>
<circle cx="276.7" cy="479.0" r="3.3"/>
<circle cx="273.0" cy="484.4" r="3.3"/>
<circle cx="260.6" cy="484.6" r="3.3"/>
<circle cx="292.7" cy="484.4" r="3.3"/>
<circle cx="300.8" cy="484.4" r="3.3"/>
<circle cx="234.9" cy="494.5" r="3.3"/>
<circle cx="251.9" cy="494.5" r="3.3"/>
<circle cx="260.0" cy="494.5" r="3.3"/>
<circle cx="271.7" cy="494.5" r="3.3"/>
<circle cx="275.9" cy="494.5" r="3.3"/>
<circle cx="234.3" cy="499.8" r="3.3"/>
<circle cx="250.7" cy="499.8" r="3.3"/>
<circle cx="261.8" cy="499.8" r="3.3"/>
<circle cx="243.1" cy="505.0" r="3.3"/>
<circle cx="249.5" cy="505.0" r="3.3"/>
<circle cx="260.6" cy="505.0" r="3.3"/>
<circle cx="277.0" cy="505.1" r="3.3"/>
<circle cx="279.9" cy="505.0" r="3.3"/>
<circle cx="233.8" cy="510.3" r="3.3"/>
<circle cx="267.6" cy="510.3" r="3.3"/>
<circle cx="276.3" cy="510.3" r="3.3"/>
<circle cx="240.2" cy="515.0" r="3.3"/>
<circle cx="243.7" cy="515.0" r="3.3"/>
<circle cx="250.1" cy="515.0" r="3.3"/>
<circle cx="261.8" cy="515.0" r="3.3"/>
<circle cx="243.7" cy="520.3" r="3.3"/>
<circle cx="246.6" cy="520.3" r="3.3"/>
<circle cx="246.6" cy="525.5" r="3.3"/>
<circle cx="281.6" cy="525.6" r="3.3"/>
<circle cx="289.6" cy="525.6" r="3.3"/>
<circle cx="234.9" cy="531.1" r="3.3"/>
<circle cx="239.0" cy="531.1" r="3.3"/>
<circle cx="246.6" cy="531.1" r="3.3"/>
<circle cx="276.3" cy="531.0" r="3.3"/>
<circle cx="261.0" cy="541.4" r="3.3"/>
<circle cx="243.1" cy="546.6" r="3.3"/>
<circle cx="298.7" cy="541.2" r="3.3"/>
<circle cx="305.5" cy="541.2" r="3.3"/>
<circle cx="293.4" cy="546.6" r="3.3"/>
<circle cx="298.0" cy="546.6" r="3.3"/>
<text x="357.4" y="429.6" font-size="18" font-weight="bold" text-anchor="start" fill="#000" >F</text>
<line x1="423.0" y1="435.5" x2="423.0" y2="604.4" stroke="#000" stroke-width="1.6"/>
<line x1="419.0" y1="600.8" x2="423.0" y2="600.8" stroke="#000" stroke-width="1.5"/>
<text x="417.0" y="605.25" font-size="12.4" font-weight="bold" text-anchor="end" fill="#000" textLength="16.54" lengthAdjust="spacingAndGlyphs" >1.4</text>
<line x1="419.0" y1="559.75" x2="423.0" y2="559.75" stroke="#000" stroke-width="1.5"/>
<text x="417.0" y="564.2" font-size="12.4" font-weight="bold" text-anchor="end" fill="#000" textLength="16.54" lengthAdjust="spacingAndGlyphs" >1.6</text>
<line x1="419.0" y1="518.6999999999999" x2="423.0" y2="518.6999999999999" stroke="#000" stroke-width="1.5"/>
<text x="417.0" y="523.15" font-size="12.4" font-weight="bold" text-anchor="end" fill="#000" textLength="16.54" lengthAdjust="spacingAndGlyphs" >1.8</text>
<line x1="419.0" y1="477.65" x2="423.0" y2="477.65" stroke="#000" stroke-width="1.5"/>
<text x="417.0" y="482.09999999999997" font-size="12.4" font-weight="bold" text-anchor="end" fill="#000" textLength="16.54" lengthAdjust="spacingAndGlyphs" >2.0</text>
<line x1="419.0" y1="436.59999999999997" x2="423.0" y2="436.59999999999997" stroke="#000" stroke-width="1.5"/>
<text x="417.0" y="441.04999999999995" font-size="12.4" font-weight="bold" text-anchor="end" fill="#000" textLength="16.54" lengthAdjust="spacingAndGlyphs" >2.2</text>
<line x1="423.0" y1="600.8" x2="669.5" y2="600.8" stroke="#000" stroke-width="1.6"/>
<line x1="423.0" y1="600.8" x2="423.0" y2="604.4" stroke="#000" stroke-width="1.5"/>
<text x="423.0" y="619.8" font-size="12.5" font-weight="bold" text-anchor="middle" fill="#000" textLength="16.19" lengthAdjust="spacingAndGlyphs" >0.0</text>
<line x1="504.95" y1="600.8" x2="504.95" y2="604.4" stroke="#000" stroke-width="1.5"/>
<text x="504.95" y="619.8" font-size="12.5" font-weight="bold" text-anchor="middle" fill="#000" textLength="16.19" lengthAdjust="spacingAndGlyphs" >0.5</text>
<line x1="586.9" y1="600.8" x2="586.9" y2="604.4" stroke="#000" stroke-width="1.5"/>
<text x="586.9" y="619.8" font-size="12.5" font-weight="bold" text-anchor="middle" fill="#000" textLength="16.19" lengthAdjust="spacingAndGlyphs" >1.0</text>
<line x1="668.85" y1="600.8" x2="668.85" y2="604.4" stroke="#000" stroke-width="1.5"/>
<text x="668.85" y="619.8" font-size="12.5" font-weight="bold" text-anchor="middle" fill="#000" textLength="16.19" lengthAdjust="spacingAndGlyphs" >1.5</text>
<text x="452.5" y="637.4" font-size="13.6" font-weight="bold" text-anchor="start" fill="#000" textLength="184.1" lengthAdjust="spacingAndGlyphs" >Intraplatelet 5-HT per platelet</text>
<text transform="translate(376.2,518.9) rotate(-90)" font-size="13.4" font-weight="bold" text-anchor="middle" textLength="69.9" lengthAdjust="spacingAndGlyphs">YAP mRNA</text>
<text transform="translate(391.6,518.9) rotate(-90)" font-size="13.3" font-weight="bold" text-anchor="middle" textLength="120.3" lengthAdjust="spacingAndGlyphs">relative expression</text>
<text x="614.0" y="432.0" font-size="11.3" font-weight="normal">R<tspan font-size="8.4" dy="-4.4">2</tspan><tspan dy="4.4">=0.1991</tspan></text>
<text x="615.3" y="445.4" font-size="11.5" font-weight="normal" text-anchor="start" fill="#000" >P&lt; 0.0001</text>
<line x1="440.9" y1="538.2" x2="661.4" y2="489.8" stroke="#000" stroke-width="1.5"/>
<circle cx="440.9" cy="514.3" r="3.3"/>
<circle cx="440.9" cy="540.0" r="3.3"/>
<circle cx="454.8" cy="519.3" r="3.3"/>
<circle cx="459.9" cy="529.6" r="3.3"/>
<circle cx="469.3" cy="529.6" r="3.3"/>
<circle cx="453.1" cy="550.0" r="3.3"/>
<circle cx="469.3" cy="560.4" r="3.3"/>
<circle cx="458.7" cy="570.7" r="3.3"/>
<circle cx="472.6" cy="498.6" r="3.3"/>
<circle cx="482.0" cy="498.7" r="3.3"/>
<circle cx="473.6" cy="508.6" r="3.3"/>
<circle cx="473.6" cy="514.0" r="3.3"/>
<circle cx="478.6" cy="519.3" r="3.3"/>
<circle cx="481.1" cy="519.3" r="3.3"/>
<circle cx="484.7" cy="524.1" r="3.3"/>
<circle cx="487.6" cy="524.1" r="3.3"/>
<circle cx="478.6" cy="529.7" r="3.3"/>
<circle cx="478.0" cy="534.9" r="3.3"/>
<circle cx="471.7" cy="539.9" r="3.3"/>
<circle cx="485.8" cy="539.8" r="3.3"/>
<circle cx="478.6" cy="544.9" r="3.3"/>
<circle cx="478.0" cy="550.1" r="3.3"/>
<circle cx="487.3" cy="554.8" r="3.3"/>
<circle cx="488.3" cy="570.7" r="3.3"/>
<circle cx="508.0" cy="488.6" r="3.3"/>
<circle cx="526.7" cy="483.3" r="3.3"/>
<circle cx="555.5" cy="483.3" r="3.3"/>
<circle cx="494.4" cy="503.6" r="3.3"/>
<circle cx="497.1" cy="503.6" r="3.3"/>
<circle cx="494.4" cy="508.7" r="3.3"/>
<circle cx="502.1" cy="508.7" r="3.3"/>
<circle cx="491.1" cy="514.0" r="3.3"/>
<circle cx="497.4" cy="514.0" r="3.3"/>
<circle cx="491.4" cy="519.0" r="3.3"/>
<circle cx="495.0" cy="524.1" r="3.3"/>
<circle cx="492.5" cy="529.4" r="3.3"/>
<circle cx="500.4" cy="529.4" r="3.3"/>
<circle cx="492.9" cy="534.7" r="3.3"/>
<circle cx="499.9" cy="534.7" r="3.3"/>
<circle cx="505.6" cy="534.7" r="3.3"/>
<circle cx="493.2" cy="544.9" r="3.3"/>
<circle cx="498.0" cy="544.9" r="3.3"/>
<circle cx="509.1" cy="560.4" r="3.3"/>
<circle cx="510.4" cy="498.8" r="3.3"/>
<circle cx="520.9" cy="498.8" r="3.3"/>
<circle cx="542.8" cy="498.8" r="3.3"/>
<circle cx="515.0" cy="503.8" r="3.3"/>
<circle cx="518.5" cy="503.8" r="3.3"/>
<circle cx="526.1" cy="503.8" r="3.3"/>
<circle cx="554.3" cy="503.7" r="3.3"/>
<circle cx="513.9" cy="508.7" r="3.3"/>
<circle cx="518.5" cy="508.7" r="3.3"/>
<circle cx="523.2" cy="508.7" r="3.3"/>
<circle cx="529.0" cy="508.7" r="3.3"/>
<circle cx="546.4" cy="508.8" r="3.3"/>
<circle cx="558.0" cy="508.8" r="3.3"/>
<circle cx="514.5" cy="514.0" r="3.3"/>
<circle cx="547.0" cy="514.2" r="3.3"/>
<circle cx="498.7" cy="518.6" r="3.3"/>
<circle cx="503.4" cy="518.6" r="3.3"/>
<circle cx="508.0" cy="518.6" r="3.3"/>
<circle cx="512.7" cy="518.6" r="3.3"/>
<circle cx="516.8" cy="518.6" r="3.3"/>
<circle cx="520.9" cy="518.6" r="3.3"/>
<circle cx="530.2" cy="518.6" r="3.3"/>
<circle cx="533.7" cy="518.6" r="3.3"/>
<circle cx="538.4" cy="518.6" r="3.3"/>
<circle cx="505.1" cy="523.9" r="3.3"/>
<circle cx="527.9" cy="523.9" r="3.3"/>
<circle cx="507.4" cy="529.1" r="3.3"/>
<circle cx="527.3" cy="529.1" r="3.3"/>
<circle cx="519.7" cy="534.4" r="3.3"/>
<circle cx="534.9" cy="534.5" r="3.3"/>
<circle cx="539.2" cy="534.5" r="3.3"/>
<circle cx="513.9" cy="539.6" r="3.3"/>
<circle cx="525.0" cy="539.6" r="3.3"/>
<circle cx="514.5" cy="544.9" r="3.3"/>
<circle cx="520.9" cy="544.9" r="3.3"/>
<circle cx="541.9" cy="549.5" r="3.3"/>
<circle cx="516.2" cy="565.8" r="3.3"/>
<circle cx="519.7" cy="575.6" r="3.3"/>
<circle cx="529.7" cy="575.6" r="3.3"/>
<circle cx="592.9" cy="468.1" r="3.3"/>
<circle cx="661.9" cy="468.1" r="3.3"/>
<circle cx="643.2" cy="473.2" r="3.3"/>
<circle cx="575.4" cy="477.9" r="3.3"/>
<circle cx="596.9" cy="483.3" r="3.3"/>
<circle cx="614.4" cy="483.3" r="3.3"/>
<circle cx="594.1" cy="488.6" r="3.3"/>
<circle cx="607.0" cy="488.6" r="3.3"/>
<circle cx="592.9" cy="493.8" r="3.3"/>
<circle cx="654.9" cy="493.8" r="3.3"/>
<circle cx="566.5" cy="498.5" r="3.3"/>
<circle cx="605.3" cy="498.5" r="3.3"/>
<circle cx="622.2" cy="498.5" r="3.3"/>
<circle cx="661.9" cy="498.5" r="3.3"/>
<circle cx="561.8" cy="503.6" r="3.3"/>
<circle cx="575.4" cy="503.6" r="3.3"/>
<circle cx="579.6" cy="503.6" r="3.3"/>
<circle cx="562.5" cy="509.0" r="3.3"/>
<circle cx="572.6" cy="509.0" r="3.3"/>
<circle cx="600.0" cy="509.0" r="3.3"/>
<circle cx="630.3" cy="509.0" r="3.3"/>
<circle cx="572.6" cy="514.4" r="3.3"/>
<circle cx="570.7" cy="519.5" r="3.3"/>
<circle cx="564.9" cy="534.7" r="3.3"/>
<circle cx="581.2" cy="534.7" r="3.3"/>
<circle cx="561.8" cy="549.9" r="3.3"/>
<circle cx="570.3" cy="549.9" r="3.3"/>
<circle cx="587.1" cy="570.5" r="3.3"/>
<circle cx="569.5" cy="575.6" r="3.3"/>
</svg></body></html>
